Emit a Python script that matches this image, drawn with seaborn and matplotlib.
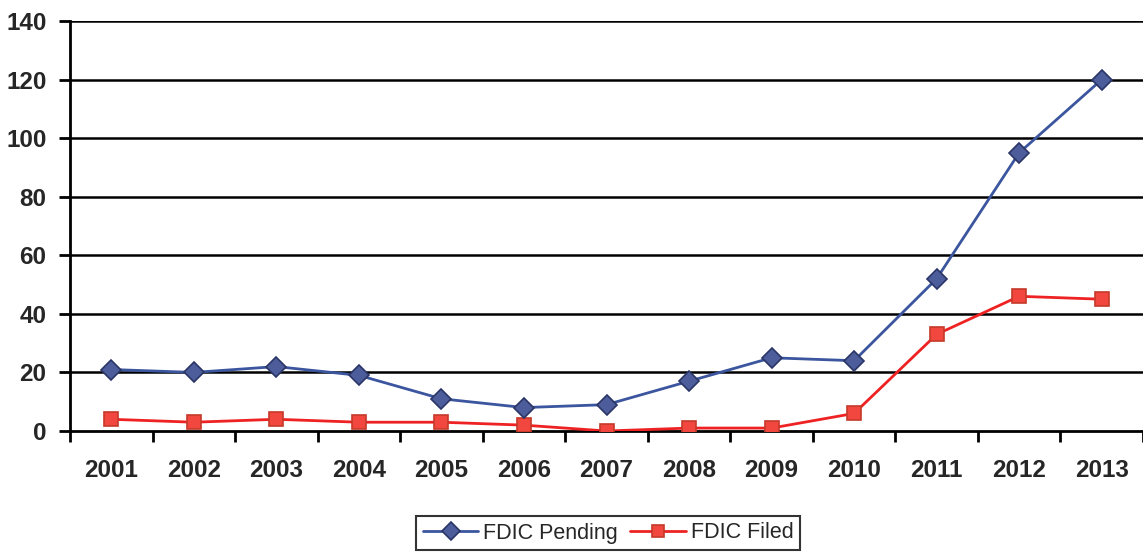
import matplotlib
matplotlib.use("Agg")
import matplotlib.pyplot as plt
import numpy as np
import pandas as pd
import seaborn as sns

years = ["2001", "2002", "2003", "2004", "2005", "2006", "2007",
         "2008", "2009", "2010", "2011", "2012", "2013"]
pending = [21, 20, 22, 19, 11, 8, 9, 17, 25, 24, 52, 95, 120]
filed = [4, 3, 4, 3, 3, 2, 0, 1, 1, 6, 33, 46, 45]
y_ticks = [0, 20, 40, 60, 80, 100, 120, 140]

sns.set_style("white")
plt.rcParams["font.family"] = ["Liberation Sans", "DejaVu Sans"]

df = pd.DataFrame({
    "pos": np.arange(len(years)),
    "FDIC Pending": pending,
    "FDIC Filed": filed,
})

fig = plt.figure(figsize=(11.43, 5.52), dpi=100)
ax = fig.add_axes([70 / 1143, 1 - 431 / 552, (1143 - 70) / 1143, (431 - 21) / 552])

for y in y_ticks[1:]:
    ax.axhline(y, color="black", lw=1.8, zorder=1)

sns.lineplot(data=df, x="pos", y="FDIC Pending", ax=ax, color="#3b559e", lw=2,
             marker="D", markersize=10, markerfacecolor="#4d5d9b",
             markeredgecolor="#2a3566", markeredgewidth=1.2,
             label="FDIC Pending", zorder=4)
sns.lineplot(data=df, x="pos", y="FDIC Filed", ax=ax, color="#ee2222", lw=2,
             marker="s", markersize=10, markerfacecolor="#f2473f",
             markeredgecolor="#c43a2a", markeredgewidth=1.2,
             label="FDIC Filed", zorder=3)

ax.set_xlim(-0.5, len(years) - 0.5 - 0.065)
ax.set_ylim(0, 140)
ax.set_xlabel("")
ax.set_ylabel("")

ax.set_yticks(y_ticks)
ax.set_yticklabels([str(v) for v in y_ticks], fontsize=17.5, fontweight="bold")
ax.set_xticks(np.arange(len(years)))
ax.set_xticklabels(years, fontsize=17.5, fontweight="bold")
ax.set_xticks(np.arange(len(years) + 1) - 0.5, minor=True)
ax.tick_params(axis="x", which="major", length=0, pad=20)
ax.tick_params(axis="x", which="minor", length=8, width=2, direction="out",
               color="black", bottom=True)
ax.tick_params(axis="y", which="major", length=8, width=2, direction="out",
               color="black", left=True, pad=9)

for side in ["top", "right"]:
    ax.spines[side].set_visible(False)
for side in ["left", "bottom"]:
    ax.spines[side].set_color("black")
    ax.spines[side].set_linewidth(2)

leg = ax.legend(loc="center", bbox_to_anchor=(608 / 1143, 1 - 533 / 552),
                bbox_transform=fig.transFigure, ncol=2, frameon=True,
                fancybox=False, fontsize=15.5, handlelength=2.6,
                handletextpad=0.2, columnspacing=0.6, borderpad=0.3,
                edgecolor="black", borderaxespad=0)
leg.get_frame().set_linewidth(1.5)
for h in leg.legend_handles:
    h.set_markersize(9)

fig.savefig("out.png", dpi=100, facecolor="white")
